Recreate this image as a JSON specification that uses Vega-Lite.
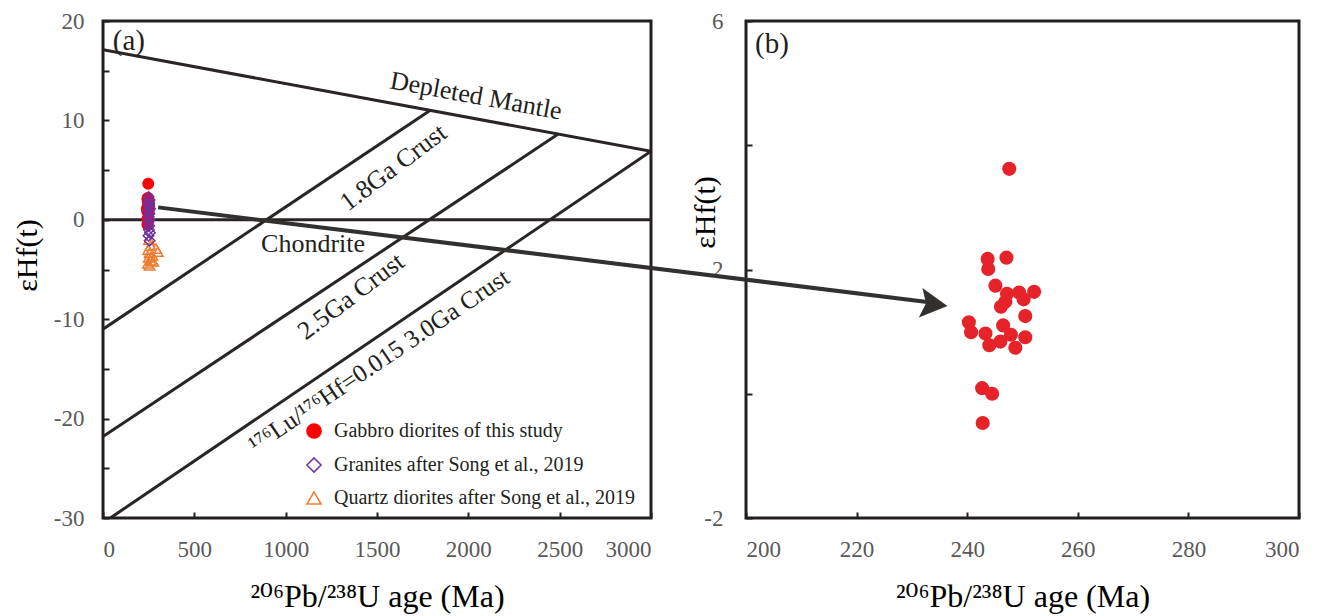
{
  "$schema": "https://vega.github.io/schema/vega-lite/v6.json",
  "autosize": {"type": "pad"},
  "padding": {"left": 10, "top": 8, "right": 0, "bottom": 0},
  "bounds": "flush",
  "spacing": 95,
  "config": {
    "view": {"stroke": "#231f20", "strokeWidth": 3},
    "axis": {
      "grid": false, "domain": false,
      "tickColor": "#231f20", "tickWidth": 2, "tickSize": -6,
      "labelFont": "Liberation Serif", "labelFontSize": 23, "labelColor": "#595959",
      "titleFont": "Liberation Serif, DejaVu Serif, serif", "titleFontSize": 32, "titleFontWeight": "normal", "titleColor": "#000000"
    },
    "text": {"font": "Liberation Serif, DejaVu Serif, serif", "color": "#231f20"}
  },
  "datasets": {
    "samples": [
      {"group": "Quartz diorites after Song et al., 2019", "age": 252, "e": -2.0},
      {"group": "Quartz diorites after Song et al., 2019", "age": 260, "e": -2.6},
      {"group": "Quartz diorites after Song et al., 2019", "age": 248, "e": -3.0},
      {"group": "Quartz diorites after Song et al., 2019", "age": 290, "e": -2.9},
      {"group": "Quartz diorites after Song et al., 2019", "age": 256, "e": -3.3},
      {"group": "Quartz diorites after Song et al., 2019", "age": 270, "e": -3.6},
      {"group": "Quartz diorites after Song et al., 2019", "age": 250, "e": -3.8},
      {"group": "Quartz diorites after Song et al., 2019", "age": 262, "e": -4.1},
      {"group": "Quartz diorites after Song et al., 2019", "age": 246, "e": -4.4},
      {"group": "Quartz diorites after Song et al., 2019", "age": 255, "e": -4.6},
      {"group": "Quartz diorites after Song et al., 2019", "age": 275, "e": -4.2},
      {"group": "Quartz diorites after Song et al., 2019", "age": 300, "e": -3.2},
      {"group": "Gabbro diorites of this study", "age": 247.6, "e": 3.62},
      {"group": "Gabbro diorites of this study", "age": 243.7, "e": 2.17},
      {"group": "Gabbro diorites of this study", "age": 243.8, "e": 2.01},
      {"group": "Gabbro diorites of this study", "age": 247.1, "e": 2.19},
      {"group": "Gabbro diorites of this study", "age": 245.1, "e": 1.74},
      {"group": "Gabbro diorites of this study", "age": 247.2, "e": 1.61},
      {"group": "Gabbro diorites of this study", "age": 249.4, "e": 1.63},
      {"group": "Gabbro diorites of this study", "age": 252.1, "e": 1.64},
      {"group": "Gabbro diorites of this study", "age": 250.2, "e": 1.52},
      {"group": "Gabbro diorites of this study", "age": 246.1, "e": 1.40},
      {"group": "Gabbro diorites of this study", "age": 246.9, "e": 1.48},
      {"group": "Gabbro diorites of this study", "age": 250.5, "e": 1.25},
      {"group": "Gabbro diorites of this study", "age": 240.3, "e": 1.15},
      {"group": "Gabbro diorites of this study", "age": 240.7, "e": 0.99},
      {"group": "Gabbro diorites of this study", "age": 243.3, "e": 0.97},
      {"group": "Gabbro diorites of this study", "age": 246.5, "e": 1.10},
      {"group": "Gabbro diorites of this study", "age": 247.9, "e": 0.95},
      {"group": "Gabbro diorites of this study", "age": 250.5, "e": 0.91},
      {"group": "Gabbro diorites of this study", "age": 244.0, "e": 0.78},
      {"group": "Gabbro diorites of this study", "age": 246.0, "e": 0.84},
      {"group": "Gabbro diorites of this study", "age": 248.7, "e": 0.74},
      {"group": "Gabbro diorites of this study", "age": 242.7, "e": 0.09},
      {"group": "Gabbro diorites of this study", "age": 244.5, "e": 0.00},
      {"group": "Gabbro diorites of this study", "age": 242.8, "e": -0.47},
      {"group": "Granites after Song et al., 2019", "age": 250, "e": 2.3},
      {"group": "Granites after Song et al., 2019", "age": 255, "e": 2.0},
      {"group": "Granites after Song et al., 2019", "age": 248, "e": 1.7},
      {"group": "Granites after Song et al., 2019", "age": 252, "e": 1.4},
      {"group": "Granites after Song et al., 2019", "age": 258, "e": 1.1},
      {"group": "Granites after Song et al., 2019", "age": 246, "e": 0.9},
      {"group": "Granites after Song et al., 2019", "age": 254, "e": 0.6},
      {"group": "Granites after Song et al., 2019", "age": 250, "e": 0.3},
      {"group": "Granites after Song et al., 2019", "age": 256, "e": 0.0},
      {"group": "Granites after Song et al., 2019", "age": 248, "e": -0.3},
      {"group": "Granites after Song et al., 2019", "age": 253, "e": -0.6},
      {"group": "Granites after Song et al., 2019", "age": 251, "e": -1.0},
      {"group": "Granites after Song et al., 2019", "age": 257, "e": -1.3},
      {"group": "Granites after Song et al., 2019", "age": 249, "e": -1.6},
      {"group": "Granites after Song et al., 2019", "age": 255, "e": -2.1}
    ],
    "lines": [
      {"line": "DM", "age": 0, "e": 17.1},
      {"line": "DM", "age": 3000, "e": 6.9},
      {"line": "CHUR", "age": 0, "e": 0},
      {"line": "CHUR", "age": 3000, "e": 0},
      {"line": "1.8", "age": 0, "e": -11.0},
      {"line": "1.8", "age": 1790, "e": 11.0},
      {"line": "2.5", "age": 0, "e": -21.8},
      {"line": "2.5", "age": 2490, "e": 8.6},
      {"line": "3.0", "age": 40, "e": -30},
      {"line": "3.0", "age": 3000, "e": 6.9}
    ]
  },
  "hconcat": [
    {
      "width": 548,
      "height": 497,
      "encoding": {
        "x": {"field": "age", "type": "quantitative",
          "scale": {"domain": [0, 3000], "nice": false, "zero": false},
          "axis": {"values": [0, 500, 1000, 1500, 2000, 2500, 3000], "format": "d", "labelPadding": 26, "title": "²⁰⁶Pb/²³⁸U age (Ma)", "titlePadding": 20}},
        "y": {"field": "e", "type": "quantitative",
          "scale": {"domain": [-30, 20], "nice": false, "zero": false},
          "axis": {"values": [-30, -25, -20, -15, -10, -5, 0, 5, 10, 15, 20], "labelExpr": "datum.value % 10 == 0 ? replace(datum.label, '−', '-') : ''", "labelPadding": 25, "title": "εHf(t)", "titleFontSize": 30, "titleX": -76, "titleY": 234, "titleBaseline": "middle"}}
      },
      "layer": [
        {
          "data": {"name": "lines"},
          "mark": {"type": "line", "color": "#2b2424", "strokeWidth": 3, "clip": true},
          "encoding": {"detail": {"field": "line"}}
        },
        {
          "data": {"name": "samples"},
          "mark": {"type": "point", "size": 110, "strokeWidth": 1.5, "opacity": 1},
          "encoding": {
            "shape": {"field": "group", "type": "nominal",
              "scale": {"domain": ["Gabbro diorites of this study", "Granites after Song et al., 2019", "Quartz diorites after Song et al., 2019"], "range": ["circle", "diamond", "triangle-up"]},
              "legend": {"title": null, "orient": "none", "legendX": 201, "legendY": 400, "labelFont": "Liberation Serif", "labelFontSize": 20, "labelColor": "#231f20", "symbolSize": 200, "symbolStrokeWidth": 1.5, "rowPadding": 12, "labelOffset": 10, "labelLimit": 400}},
            "fill": {"field": "group", "type": "nominal",
              "scale": {"domain": ["Gabbro diorites of this study", "Granites after Song et al., 2019", "Quartz diorites after Song et al., 2019"], "range": ["#ff0000", "transparent", "transparent"]},
              "legend": {"title": null, "orient": "none", "legendX": 201, "legendY": 400, "labelFont": "Liberation Serif", "labelFontSize": 20, "labelColor": "#231f20", "symbolSize": 200, "symbolStrokeWidth": 1.5, "rowPadding": 12, "labelOffset": 10, "labelLimit": 400}},
            "stroke": {"field": "group", "type": "nominal",
              "scale": {"domain": ["Gabbro diorites of this study", "Granites after Song et al., 2019", "Quartz diorites after Song et al., 2019"], "range": ["#ff0000", "#7030a0", "#ed7d31"]},
              "legend": {"title": null, "orient": "none", "legendX": 201, "legendY": 400, "labelFont": "Liberation Serif", "labelFontSize": 20, "labelColor": "#231f20", "symbolSize": 200, "symbolStrokeWidth": 1.5, "rowPadding": 12, "labelOffset": 10, "labelLimit": 400}}
          }
        },
        {
          "data": {"values": [{"age": 2042, "e": 12.45, "label": "Depleted Mantle"}]},
          "mark": {"type": "text", "fontSize": 26, "angle": 10.4, "align": "center", "baseline": "middle"},
          "encoding": {"text": {"field": "label"}}
        },
        {
          "data": {"values": [
            {"age": 1590, "e": 5.26, "label": "1.8Ga Crust"},
            {"age": 1358, "e": -7.72, "label": "2.5Ga Crust"}
          ]},
          "mark": {"type": "text", "fontSize": 26, "angle": 323, "align": "center", "baseline": "middle"},
          "encoding": {"text": {"field": "label"}}
        },
        {
          "data": {"values": [{"age": 1511, "e": -14.2, "label": "¹⁷⁶Lu/¹⁷⁶Hf=0.015  3.0Ga Crust"}]},
          "mark": {"type": "text", "fontSize": 25, "angle": 326, "align": "center", "baseline": "middle"},
          "encoding": {"text": {"field": "label"}}
        },
        {
          "data": {"values": [{"age": 1150, "e": -2.43, "label": "Chondrite"}]},
          "mark": {"type": "text", "fontSize": 26, "align": "center", "baseline": "middle"},
          "encoding": {"text": {"field": "label"}}
        },
        {
          "data": {"values": [{"age": 142, "e": 18.0, "label": "(a)"}]},
          "mark": {"type": "text", "fontSize": 29, "align": "center", "baseline": "middle"},
          "encoding": {"text": {"field": "label"}}
        }
      ]
    },
    {
      "width": 553,
      "height": 497,
      "encoding": {
        "x": {"field": "age", "type": "quantitative",
          "scale": {"domain": [200, 300], "nice": false, "zero": false},
          "axis": {"values": [200, 220, 240, 260, 280, 300], "format": "d", "labelPadding": 26, "title": "²⁰⁶Pb/²³⁸U age (Ma)", "titlePadding": 20}},
        "y": {"field": "e", "type": "quantitative",
          "scale": {"domain": [-2, 6], "nice": false, "zero": false},
          "axis": {"values": [-2, 0, 2, 4, 6], "labelExpr": "abs(datum.value % 4) == 2 ? replace(datum.label, '−', '-') : ''", "labelPadding": 29, "title": "εHf(t)", "titleFontSize": 30, "titleX": -41, "titleY": 191, "titleBaseline": "middle"}}
      },
      "layer": [
        {
          "data": {"name": "samples"},
          "transform": [{"filter": "datum.group == 'Gabbro diorites of this study'"}],
          "mark": {"type": "point", "filled": true, "size": 200, "color": "#e52329", "opacity": 1}
        },
        {
          "data": {"values": [{"age": 93.7, "e": 3.0}, {"age": 233.5, "e": 1.47}]},
          "mark": {"type": "line", "color": "#333030", "strokeWidth": 4, "clip": false},
          "encoding": {}
        },
        {
          "data": {"values": [{"age": 234.0, "e": 1.44}]},
          "mark": {"type": "point", "shape": "M-1,-1.1L1,0L-1,1.1L-0.6,0Z", "size": 729, "angle": 7, "filled": true, "color": "#333030", "opacity": 1, "clip": false}
        },
        {
          "data": {"values": [{"age": 204.7, "e": 5.63, "label": "(b)"}]},
          "mark": {"type": "text", "fontSize": 29, "align": "center", "baseline": "middle"},
          "encoding": {"text": {"field": "label"}}
        }
      ]
    }
  ]
}
